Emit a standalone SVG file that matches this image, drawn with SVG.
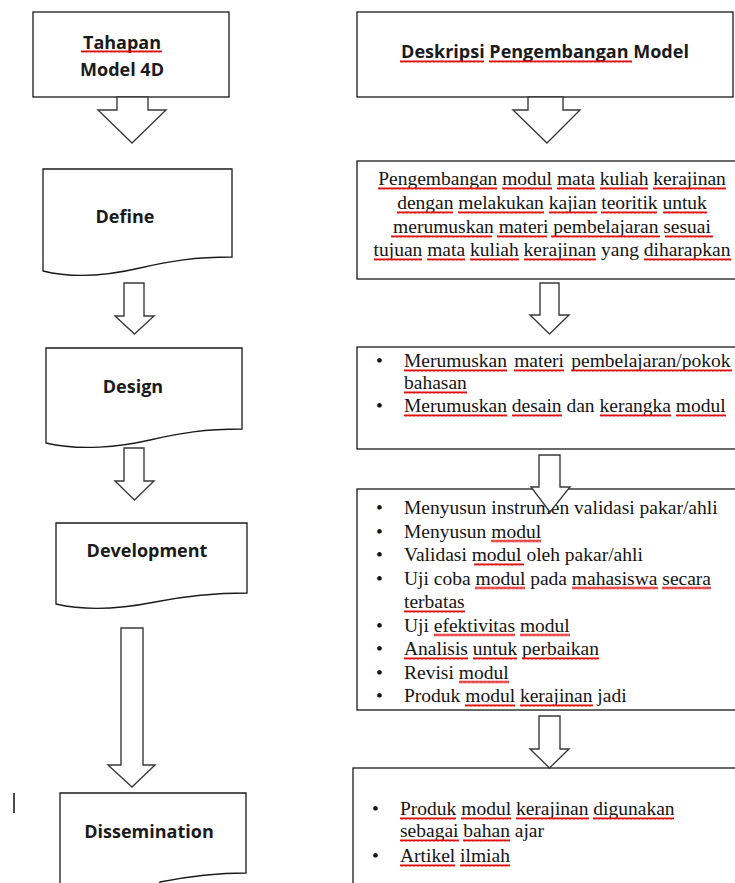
<svg xmlns="http://www.w3.org/2000/svg" width="735" height="883" viewBox="0 0 735 883">
<style>
.box{fill:#fff;stroke:#1a1a1a;stroke-width:1.3}
.arr{fill:#fff;stroke:#3a3a3a;stroke-width:1.4;stroke-linejoin:miter}
.sans{font-family:"Open Sans","DejaVu Sans",sans-serif;font-weight:700;font-size:18px;fill:#1a1a1a;text-anchor:middle}
.ser{font-family:"Liberation Serif","Times New Roman",serif;font-size:19.5px;fill:#141414}
.bul{font-family:"Liberation Serif","Times New Roman",serif;font-size:19.5px;fill:#141414;text-anchor:middle}
.sq{fill:url(#sq)}
</style>
<defs>
<pattern id="sq" width="4" height="3" patternUnits="userSpaceOnUse">
<path d="M0,2.6 L1,0.4 L2,2.6 L3,0.4 L4,2.6" fill="none" stroke="#e01010" stroke-width="1"/>
</pattern>
</defs>
<rect width="735" height="883" fill="#fff"/>

<!-- left column -->
<g id="tahapan">
<rect class="box" x="33" y="12" width="196" height="85"/>
<text class="sans" x="122" y="49">Tahapan</text>
<text class="sans" x="122" y="76">Model 4D</text>
<rect class="sq" transform="translate(81,50)" width="81" height="3"/>
</g>
<g id="define">
<path class="box" d="M43,169 H232 V257 C195,257 170,261 140,268 S75,279 43,271 Z"/>
<text class="sans" x="125" y="223">Define</text>
</g>
<g id="design">
<path class="box" d="M46,348 H242 V429 C205,429 180,433 150,440 S80,451 46,443 Z"/>
<text class="sans" x="133" y="393">Design</text>
</g>
<g id="development">
<path class="box" d="M56,523 H247 V593 C210,593 185,596 155,602 S90,612 56,604 Z"/>
<text class="sans" x="147" y="557">Development</text>
</g>
<g id="dissemination">
<path class="box" d="M60,900 V793 H246 V873 C215,873 190,876 160,882 L150,900 Z"/>
<text class="sans" x="149" y="838">Dissemination</text>
</g>
<line x1="14" y1="793" x2="14" y2="813" stroke="#111" stroke-width="1.5"/>

<!-- right column -->
<g id="deskripsi">
<rect class="box" x="357" y="12" width="376" height="85"/>
<text class="sans" x="545" y="58">Deskripsi Pengembangan Model</text>
<rect class="sq" transform="translate(400,60)" width="84" height="3"/>
<rect class="sq" transform="translate(489,60)" width="143" height="3"/>
</g>
<g id="define-desc">
<rect class="box" x="357" y="161" width="382" height="118"/>
<text class="ser" x="552" y="185" text-anchor="middle">Pengembangan modul mata kuliah kerajinan</text>
<text class="ser" x="552" y="209" text-anchor="middle">dengan melakukan kajian teoritik untuk</text>
<text class="ser" x="552" y="233" text-anchor="middle">merumuskan materi pembelajaran sesuai</text>
<text class="ser" x="552" y="256" text-anchor="middle">tujuan mata kuliah kerajinan yang diharapkan</text>
<rect class="sq" transform="translate(378,187)" width="119" height="3"/>
<rect class="sq" transform="translate(502,187)" width="50" height="3"/>
<rect class="sq" transform="translate(557,187)" width="38" height="3"/>
<rect class="sq" transform="translate(600,187)" width="48" height="3"/>
<rect class="sq" transform="translate(653,187)" width="73" height="3"/>
<rect class="sq" transform="translate(397,211)" width="56" height="3"/>
<rect class="sq" transform="translate(458,211)" width="86" height="3"/>
<rect class="sq" transform="translate(549,211)" width="48" height="3"/>
<rect class="sq" transform="translate(601,211)" width="56" height="3"/>
<rect class="sq" transform="translate(663,211)" width="44" height="3"/>
<rect class="sq" transform="translate(391,235)" width="101" height="3"/>
<rect class="sq" transform="translate(497,235)" width="50" height="3"/>
<rect class="sq" transform="translate(551,235)" width="109" height="3"/>
<rect class="sq" transform="translate(665,235)" width="48" height="3"/>
<rect class="sq" transform="translate(374,258)" width="48" height="3"/>
<rect class="sq" transform="translate(427,258)" width="38" height="3"/>
<rect class="sq" transform="translate(470,258)" width="49" height="3"/>
<rect class="sq" transform="translate(524,258)" width="72" height="3"/>
<rect class="sq" transform="translate(644,258)" width="87" height="3"/>
</g>
<g id="design-desc">
<rect class="box" x="357" y="347" width="382" height="102"/>
<text class="bul" x="379.5" y="367">•</text>
<text class="ser" x="404" y="367" word-spacing="2.4">Merumuskan materi pembelajaran/pokok</text>
<text class="ser" x="404" y="389">bahasan</text>
<text class="bul" x="379.5" y="412">•</text>
<text class="ser" x="404" y="412">Merumuskan desain dan kerangka modul</text>
<rect class="sq" transform="translate(404,369)" width="103" height="3"/>
<rect class="sq" transform="translate(514,369)" width="50" height="3"/>
<rect class="sq" transform="translate(571,369)" width="161" height="3"/>
<rect class="sq" transform="translate(404,391)" width="63" height="3"/>
<rect class="sq" transform="translate(404,414)" width="103" height="3"/>
<rect class="sq" transform="translate(512,414)" width="50" height="3"/>
<rect class="sq" transform="translate(600,414)" width="71" height="3"/>
<rect class="sq" transform="translate(676,414)" width="50" height="3"/>
</g>
<g id="development-desc">
<rect class="box" x="357" y="489" width="382" height="221"/>
<text class="bul" x="379.5" y="514">•</text>
<text class="ser" x="404" y="514">Menyusun instrumen validasi pakar/ahli</text>
<text class="bul" x="379.5" y="537.5">•</text>
<text class="ser" x="404" y="537.5">Menyusun modul</text>
<text class="bul" x="379.5" y="561">•</text>
<text class="ser" x="404" y="561">Validasi modul oleh pakar/ahli</text>
<text class="bul" x="379.5" y="584.5">•</text>
<text class="ser" x="404" y="584.5">Uji coba modul pada mahasiswa secara</text>
<text class="ser" x="404" y="608">terbatas</text>
<text class="bul" x="379.5" y="631.5">•</text>
<text class="ser" x="404" y="631.5">Uji efektivitas modul</text>
<text class="bul" x="379.5" y="655">•</text>
<text class="ser" x="404" y="655">Analisis untuk perbaikan</text>
<text class="bul" x="379.5" y="678.5">•</text>
<text class="ser" x="404" y="678.5">Revisi modul</text>
<text class="bul" x="379.5" y="702">•</text>
<text class="ser" x="404" y="702">Produk modul kerajinan jadi</text>
<rect class="sq" transform="translate(491,539.5)" width="50" height="3"/>
<rect class="sq" transform="translate(474,563)" width="50" height="3"/>
<rect class="sq" transform="translate(475,586.5)" width="50" height="3"/>
<rect class="sq" transform="translate(572,586.5)" width="86" height="3"/>
<rect class="sq" transform="translate(662,586.5)" width="49" height="3"/>
<rect class="sq" transform="translate(404,610)" width="61" height="3"/>
<rect class="sq" transform="translate(434,633.5)" width="81" height="3"/>
<rect class="sq" transform="translate(520,633.5)" width="50" height="3"/>
<rect class="sq" transform="translate(404,657)" width="64" height="3"/>
<rect class="sq" transform="translate(473,657)" width="44" height="3"/>
<rect class="sq" transform="translate(522,657)" width="77" height="3"/>
<rect class="sq" transform="translate(459,680.5)" width="50" height="3"/>
<rect class="sq" transform="translate(465,704)" width="50" height="3"/>
<rect class="sq" transform="translate(520,704)" width="73" height="3"/>
</g>
<g id="dissemination-desc">
<rect class="box" x="353" y="768" width="390" height="130"/>
<text class="bul" x="375.5" y="815">•</text>
<text class="ser" x="400" y="815">Produk modul kerajinan digunakan</text>
<text class="ser" x="400" y="837">sebagai bahan ajar</text>
<text class="bul" x="375.5" y="862">•</text>
<text class="ser" x="400" y="862">Artikel ilmiah</text>
<rect class="sq" transform="translate(400,817)" width="56" height="3"/>
<rect class="sq" transform="translate(461,817)" width="50" height="3"/>
<rect class="sq" transform="translate(516,817)" width="73" height="3"/>
<rect class="sq" transform="translate(593,817)" width="81" height="3"/>
<rect class="sq" transform="translate(400,839)" width="59" height="3"/>
<rect class="sq" transform="translate(463,839)" width="47" height="3"/>
<rect class="sq" transform="translate(400,864)" width="55" height="3"/>
<rect class="sq" transform="translate(460,864)" width="50" height="3"/>
</g>

<!-- connectors -->
<g id="connectors">
<polygon class="arr" points="117,97 148,97 148,110 166,110 132,143 98,110 117,110"/>
<polygon class="arr" points="124,283 144,283 144,316 154,316 134.5,334 115,316 124,316"/>
<polygon class="arr" points="124,448 144,448 144,481 154,481 134.5,500 115,481 124,481"/>
<polygon class="arr" points="121,628 143,628 143,765 155,765 132,787 108,765 121,765"/>
<polygon class="arr" points="528,97 563,97 563,110 580,110 547,143 513,110 528,110"/>
<polygon class="arr" points="540,283 559,283 559,315 569,315 549.5,334 530,315 540,315"/>
<polygon class="arr" points="539,455 560,455 560,487 570,487 550,512 531,487 539,487"/>
<polygon class="arr" points="539,716 560,716 560,749 569,749 549.5,768 530,749 539,749"/>
</g>
</svg>
